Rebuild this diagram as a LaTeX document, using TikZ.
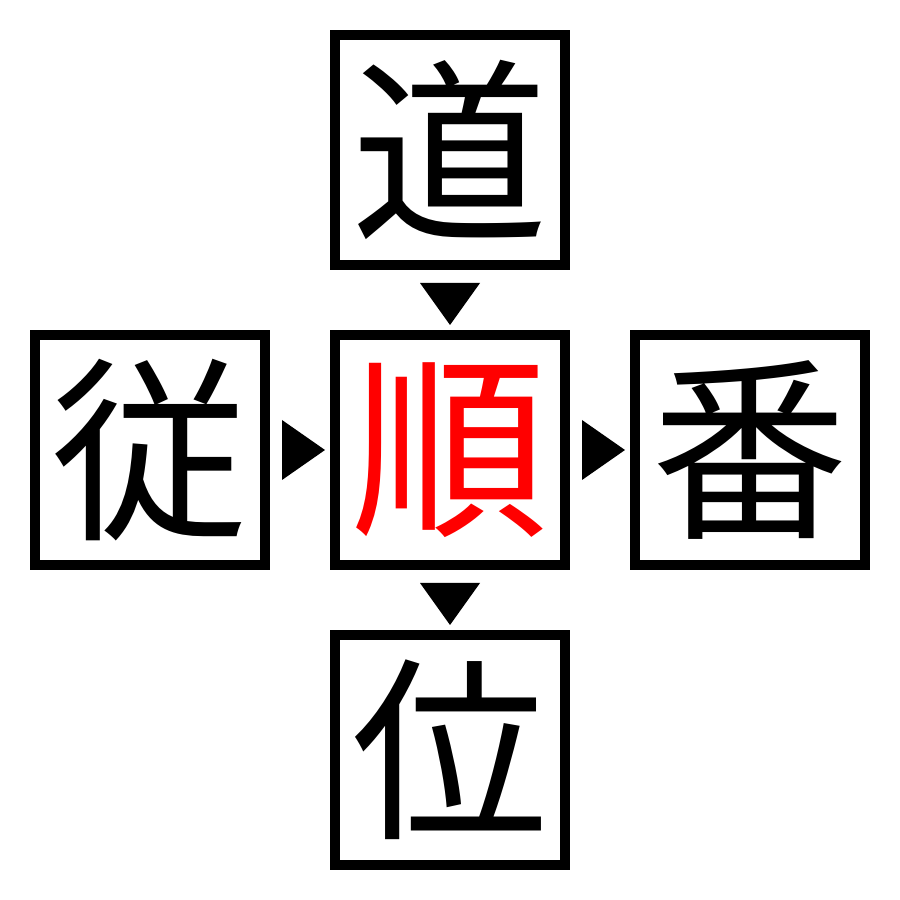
\documentclass[tikz,border=0pt]{standalone}
\usepackage{fontspec}
\usepackage{xcolor}
\newfontfamily\cjk{Noto Sans CJK JP}
\tikzset{
  kanji/.style={draw,line width=1mm,minimum size=2.3cm,inner sep=0pt,
    font=\cjk\fontsize{56}{56}\selectfont}
}
\begin{document}
\begin{tikzpicture}
            \useasboundingbox (0,0) rectangle (9,9);

            \node[kanji] (dao) at (4.5,7.5) {道};
            \node[kanji] (cong) at (1.5,4.5) {従};
            \node[kanji,text=red] (shun) at (4.5,4.5) {順};
            \node[kanji] (fan) at (7.5,4.5) {番};
            \node[kanji] (wei) at (4.5,1.5) {位};

            \fill (4.2,6.17) -- (4.8,6.17) -- (4.5,5.75) -- cycle;
            \fill (4.2,3.17) -- (4.8,3.17) -- (4.5,2.75) -- cycle;
            \fill (2.82,4.2) -- (2.82,4.8) -- (3.25,4.5) -- cycle;
            \fill (5.82,4.2) -- (5.82,4.8) -- (6.25,4.5) -- cycle;
        \end{tikzpicture}
\end{document}
